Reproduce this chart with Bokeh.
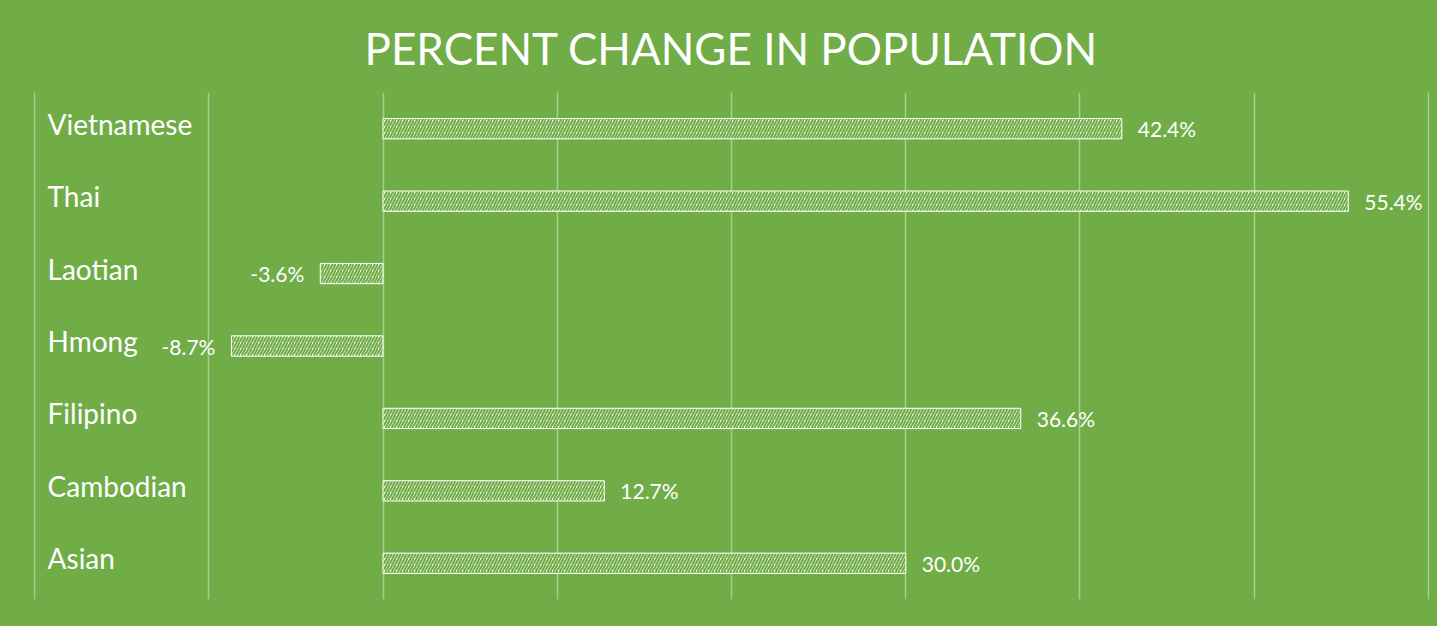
from bokeh.plotting import figure
from bokeh.models import ColumnDataSource, FactorRange, Range1d, FixedTicker
from bokeh.core.properties import value
from bokeh.embed import file_html
from bokeh.resources import INLINE

# ---- data ----
categories = ["Vietnamese", "Thai", "Laotian", "Hmong", "Filipino", "Cambodian", "Asian"]
pct_change = [42.4, 55.4, -3.6, -8.7, 36.6, 12.7, 30.0]
x_ticks = [-20, -10, 0, 10, 20, 30, 40, 50, 60]
title_text = "PERCENT CHANGE IN POPULATION"

GREEN = "#70AD47"

labels = [f"{v:.1f}%" for v in pct_change]
src = ColumnDataSource(dict(
    cat=categories,
    val=pct_change,
    lab=labels,
    xoff=[16 if v >= 0 else -16 for v in pct_change],
    align=["left" if v >= 0 else "right" for v in pct_change],
    xstart=[x_ticks[0]] * len(categories),
))

p = figure(
    width=1437, height=626,
    y_range=FactorRange(factors=list(reversed(categories)), range_padding=0),
    x_range=Range1d(x_ticks[0] - 0.06, x_ticks[-1] + 0.06),
    output_backend="svg", toolbar_location=None,
    min_border_left=33, min_border_right=8, min_border_top=92, min_border_bottom=27,
)
p.background_fill_color = None
p.border_fill_color = None
p.styles = {"background-color": GREEN}
p.outline_line_color = None

p.title.text = title_text
p.title.align = "center"
p.title.text_color = "white"
p.title.text_font = "Lato"
p.title.text_font_style = "normal"
p.title.text_font_size = "44px"
p.title.standoff = 37

p.xaxis.visible = False
p.yaxis.visible = False
p.ygrid.visible = False
p.xgrid.ticker = FixedTicker(ticks=x_ticks)
p.xgrid.grid_line_color = "#A6CF8C"
p.xgrid.grid_line_width = 1.5

p.hbar(y="cat", left=0, right="val", height=0.28, source=src,
       fill_color="white", line_color="white", line_width=1,
       hatch_pattern="/", hatch_color=GREEN, hatch_weight=2.2, hatch_scale=6)

p.text(x="val", y="cat", text="lab", source=src, x_offset="xoff", text_align="align",
       text_baseline="middle", text_color="white", text_font=value("Lato"),
       text_font_size="21px")

p.text(x="xstart", y="cat", text="cat", source=src, x_offset=13, y_offset=-5,
       text_align="left", text_baseline="middle", text_color="white",
       text_font=value("Lato"), text_font_size="28px")

open("out.html", "w").write(file_html(p, INLINE))
